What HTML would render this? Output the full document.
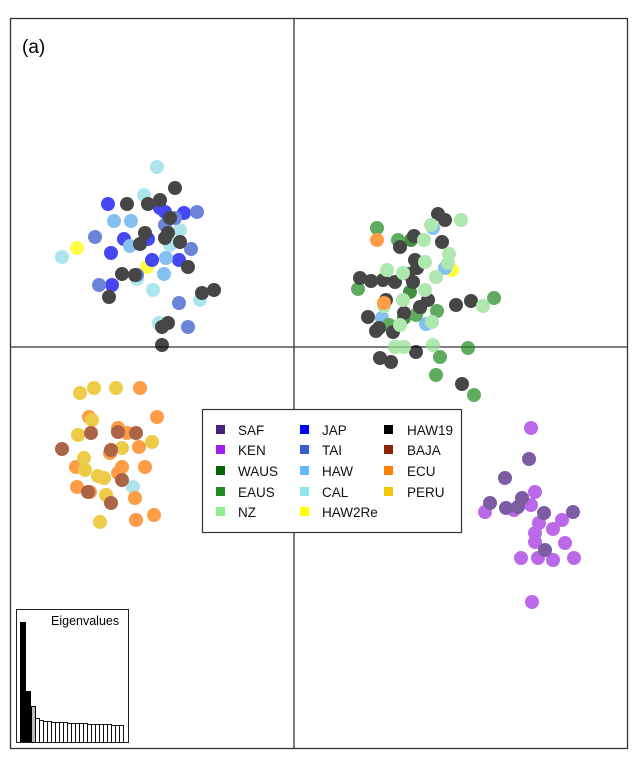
<!DOCTYPE html>
<html><head><style>body{margin:0;background:#fff}svg{display:block}text{font-family:"Liberation Sans",sans-serif}</style></head><body>
<svg width="637" height="761" viewBox="0 0 637 761">
<rect x="10.5" y="18.5" width="617" height="730" fill="none" stroke="#333" stroke-width="1.3"/>
<line x1="294" y1="18" x2="294" y2="748" stroke="#333" stroke-width="1.3"/>
<line x1="10" y1="347" x2="627" y2="347" stroke="#333" stroke-width="1.3"/>
<text x="22" y="53" font-size="19">(a)</text>
<g id="pts"></g>
<g opacity="0.72">
<!-- CAL -->
<g fill="#8edce6"><circle cx="157" cy="167" r="7"/><circle cx="144" cy="195" r="7"/><circle cx="62" cy="257" r="7"/><circle cx="153" cy="290" r="7"/><circle cx="137" cy="279" r="7"/><circle cx="159" cy="323" r="7"/><circle cx="200" cy="300" r="7"/><circle cx="180" cy="230" r="7"/><circle cx="170" cy="245" r="7"/><circle cx="133" cy="487" r="7"/></g>
<g fill="#ffff00"><circle cx="77" cy="248" r="7"/><circle cx="147" cy="267" r="7"/><circle cx="452" cy="270" r="7"/></g>
<g fill="#0000ee"><circle cx="108" cy="204" r="7"/><circle cx="184" cy="213" r="7"/><circle cx="124" cy="239" r="7"/><circle cx="111" cy="253" r="7"/><circle cx="148" cy="239" r="7"/><circle cx="152" cy="260" r="7"/><circle cx="179" cy="260" r="7"/><circle cx="112" cy="285" r="7"/><circle cx="160" cy="208" r="7"/><circle cx="165" cy="212" r="7"/></g>
<g fill="#3355cc"><circle cx="95" cy="237" r="7"/><circle cx="197" cy="212" r="7"/><circle cx="99" cy="285" r="7"/><circle cx="179" cy="303" r="7"/><circle cx="188" cy="327" r="7"/><circle cx="175" cy="218" r="7"/><circle cx="165" cy="225" r="7"/><circle cx="191" cy="249" r="7"/><circle cx="137" cy="275" r="7"/></g>
<g fill="#55aaee"><circle cx="114" cy="221" r="7"/><circle cx="131" cy="221" r="7"/><circle cx="130" cy="246" r="7"/><circle cx="166" cy="258" r="7"/><circle cx="164" cy="274" r="7"/><circle cx="433" cy="228" r="7"/><circle cx="426" cy="324" r="7"/><circle cx="382" cy="318" r="7"/><circle cx="445" cy="268" r="7"/></g>
<g fill="#006400"><circle cx="411" cy="240" r="7"/><circle cx="420" cy="308" r="7"/><circle cx="404" cy="318" r="7"/><circle cx="410" cy="292" r="7"/></g>
<g fill="#228b22"><circle cx="377" cy="228" r="7"/><circle cx="398" cy="240" r="7"/><circle cx="358" cy="289" r="7"/><circle cx="437" cy="311" r="7"/><circle cx="494" cy="298" r="7"/><circle cx="468" cy="348" r="7"/><circle cx="440" cy="357" r="7"/><circle cx="436" cy="375" r="7"/><circle cx="474" cy="395" r="7"/><circle cx="416" cy="315" r="7"/><circle cx="389" cy="325" r="7"/><circle cx="418" cy="262" r="7"/></g>
<g fill="#000"><circle cx="175" cy="188" r="7"/><circle cx="127" cy="204" r="7"/><circle cx="148" cy="204" r="7"/><circle cx="160" cy="200" r="7"/><circle cx="145" cy="233" r="7"/><circle cx="140" cy="244" r="7"/><circle cx="165" cy="238" r="7"/><circle cx="180" cy="242" r="7"/><circle cx="168" cy="233" r="7"/><circle cx="135" cy="275" r="7"/><circle cx="122" cy="274" r="7"/><circle cx="109" cy="297" r="7"/><circle cx="202" cy="293" r="7"/><circle cx="214" cy="290" r="7"/><circle cx="188" cy="267" r="7"/><circle cx="162" cy="327" r="7"/><circle cx="168" cy="323" r="7"/><circle cx="162" cy="345" r="7"/><circle cx="170" cy="218" r="7"/>
<circle cx="438" cy="214" r="7"/><circle cx="445" cy="220" r="7"/><circle cx="442" cy="242" r="7"/><circle cx="360" cy="278" r="7"/><circle cx="371" cy="281" r="7"/><circle cx="383" cy="280" r="7"/><circle cx="395" cy="282" r="7"/><circle cx="415" cy="260" r="7"/><circle cx="417" cy="268" r="7"/><circle cx="428" cy="300" r="7"/><circle cx="471" cy="301" r="7"/><circle cx="456" cy="305" r="7"/><circle cx="368" cy="317" r="7"/><circle cx="379" cy="328" r="7"/><circle cx="386" cy="300" r="7"/><circle cx="408" cy="274" r="7"/><circle cx="413" cy="282" r="7"/><circle cx="404" cy="313" r="7"/><circle cx="420" cy="307" r="7"/><circle cx="376" cy="331" r="7"/><circle cx="393" cy="332" r="7"/><circle cx="416" cy="352" r="7"/><circle cx="380" cy="358" r="7"/><circle cx="391" cy="362" r="7"/><circle cx="462" cy="384" r="7"/><circle cx="414" cy="236" r="7"/><circle cx="400" cy="247" r="7"/></g>
<g fill="#8fe08f"><circle cx="461" cy="220" r="7"/><circle cx="431" cy="225" r="7"/><circle cx="424" cy="240" r="7"/><circle cx="425" cy="262" r="7"/><circle cx="449" cy="254" r="7"/><circle cx="387" cy="270" r="7"/><circle cx="403" cy="273" r="7"/><circle cx="436" cy="277" r="7"/><circle cx="384" cy="306" r="7"/><circle cx="400" cy="325" r="7"/><circle cx="403" cy="300" r="7"/><circle cx="433" cy="345" r="7"/><circle cx="483" cy="306" r="7"/><circle cx="425" cy="290" r="7"/><circle cx="395" cy="347" r="7"/><circle cx="404" cy="347" r="7"/><circle cx="432" cy="322" r="7"/><circle cx="448" cy="263" r="7"/></g>
<g fill="#ff7700"><circle cx="377" cy="240" r="7"/><circle cx="384" cy="303" r="7"/>
<circle cx="140" cy="388" r="7"/><circle cx="157" cy="417" r="7"/><circle cx="89" cy="417" r="7"/><circle cx="118" cy="428" r="7"/><circle cx="127" cy="433" r="7"/><circle cx="139" cy="447" r="7"/><circle cx="145" cy="467" r="7"/><circle cx="76" cy="467" r="7"/><circle cx="77" cy="487" r="7"/><circle cx="118" cy="473" r="7"/><circle cx="135" cy="498" r="7"/><circle cx="136" cy="520" r="7"/><circle cx="154" cy="515" r="7"/><circle cx="90" cy="492" r="7"/><circle cx="110" cy="453" r="7"/><circle cx="122" cy="467" r="7"/></g>
<g fill="#e8b800"><circle cx="80" cy="393" r="7"/><circle cx="94" cy="388" r="7"/><circle cx="116" cy="388" r="7"/><circle cx="78" cy="435" r="7"/><circle cx="152" cy="442" r="7"/><circle cx="84" cy="458" r="7"/><circle cx="100" cy="522" r="7"/><circle cx="106" cy="495" r="7"/><circle cx="98" cy="476" r="7"/><circle cx="122" cy="448" r="7"/><circle cx="92" cy="420" r="7"/><circle cx="85" cy="470" r="7"/><circle cx="104" cy="478" r="7"/></g>
<g fill="#8b2a00"><circle cx="62" cy="449" r="7"/><circle cx="91" cy="433" r="7"/><circle cx="118" cy="432" r="7"/><circle cx="136" cy="433" r="7"/><circle cx="111" cy="450" r="7"/><circle cx="111" cy="503" r="7"/><circle cx="88" cy="492" r="7"/><circle cx="122" cy="480" r="7"/></g>
<g fill="#a030e0"><circle cx="531" cy="428" r="7"/><circle cx="535" cy="492" r="7"/><circle cx="485" cy="512" r="7"/><circle cx="539" cy="523" r="7"/><circle cx="535" cy="533" r="7"/><circle cx="562" cy="520" r="7"/><circle cx="553" cy="529" r="7"/><circle cx="565" cy="543" r="7"/><circle cx="521" cy="558" r="7"/><circle cx="538" cy="558" r="7"/><circle cx="553" cy="560" r="7"/><circle cx="574" cy="558" r="7"/><circle cx="532" cy="602" r="7"/><circle cx="531" cy="505" r="7"/><circle cx="514" cy="510" r="7"/><circle cx="535" cy="542" r="7"/></g>
<g fill="#4b1f80"><circle cx="529" cy="459" r="7"/><circle cx="505" cy="478" r="7"/><circle cx="490" cy="503" r="7"/><circle cx="506" cy="508" r="7"/><circle cx="522" cy="498" r="7"/><circle cx="518" cy="507" r="7"/><circle cx="544" cy="513" r="7"/><circle cx="573" cy="512" r="7"/><circle cx="545" cy="550" r="7"/></g>
</g>
<!-- legend -->
<rect x="202.5" y="409.5" width="259" height="123" fill="#fff" stroke="#333" stroke-width="1.2"/>
<g font-size="13.5" fill="#111">
<rect x="216" y="425" width="9" height="9" fill="#4b1f80"/><text x="238" y="435">SAF</text>
<rect x="216" y="445" width="9" height="9" fill="#a020f0"/><text x="238" y="455">KEN</text>
<rect x="216" y="466" width="9" height="9" fill="#006400"/><text x="238" y="476">WAUS</text>
<rect x="216" y="487" width="9" height="9" fill="#228b22"/><text x="238" y="497">EAUS</text>
<rect x="216" y="507" width="9" height="9" fill="#90ee90"/><text x="238" y="517">NZ</text>
<rect x="300" y="425" width="9" height="9" fill="#0000ff"/><text x="322" y="435">JAP</text>
<rect x="300" y="445" width="9" height="9" fill="#3a5fcd"/><text x="322" y="455">TAI</text>
<rect x="300" y="466" width="9" height="9" fill="#63b8ff"/><text x="322" y="476">HAW</text>
<rect x="300" y="487" width="9" height="9" fill="#8ee5ee"/><text x="322" y="497">CAL</text>
<rect x="300" y="507" width="9" height="9" fill="#ffff00"/><text x="322" y="517">HAW2Re</text>
<rect x="384" y="425" width="9" height="9" fill="#000"/><text x="407" y="435">HAW19</text>
<rect x="384" y="445" width="9" height="9" fill="#8b2500"/><text x="407" y="455">BAJA</text>
<rect x="384" y="466" width="9" height="9" fill="#ff7f00"/><text x="407" y="476">ECU</text>
<rect x="384" y="487" width="9" height="9" fill="#eec900"/><text x="407" y="497">PERU</text>
</g>
<!-- inset -->
<svg x="16" y="609" width="113" height="134">
<rect x="0.5" y="0.5" width="112" height="133" fill="#fff" stroke="#222"/>
<text x="35" y="16" font-size="12.5">Eigenvalues</text>
<rect x="4" y="13" width="6" height="120" fill="#000"/>
<rect x="10" y="82" width="5" height="51" fill="#000"/>
<rect x="15.5" y="97.5" width="4" height="36" fill="#bbb" stroke="#000"/>
<g fill="#fff" stroke="#000" stroke-width="0.9">
<rect x="19.5" y="109.5" width="4" height="24"/><rect x="23.5" y="111.5" width="4" height="22"/><rect x="27.5" y="112.5" width="4" height="21"/><rect x="31.5" y="112.5" width="4" height="21"/><rect x="35.5" y="113.5" width="4" height="20"/><rect x="39.5" y="113.5" width="4" height="20"/><rect x="43.5" y="113.5" width="4" height="20"/><rect x="47.5" y="113.5" width="4" height="20"/><rect x="51.5" y="114.5" width="4" height="19"/><rect x="55.5" y="114.5" width="4" height="19"/><rect x="59.5" y="114.5" width="4" height="19"/><rect x="63.5" y="114.5" width="4" height="19"/><rect x="67.5" y="114.5" width="4" height="19"/><rect x="71.5" y="115.5" width="4" height="18"/><rect x="75.5" y="115.5" width="4" height="18"/><rect x="79.5" y="115.5" width="4" height="18"/><rect x="83.5" y="115.5" width="4" height="18"/><rect x="87.5" y="115.5" width="4" height="18"/><rect x="91.5" y="115.5" width="4" height="18"/><rect x="95.5" y="116.5" width="4" height="17"/><rect x="99.5" y="116.5" width="4" height="17"/><rect x="103.5" y="116.5" width="4" height="17"/>
</g>
</svg>
</svg>
</body></html>
